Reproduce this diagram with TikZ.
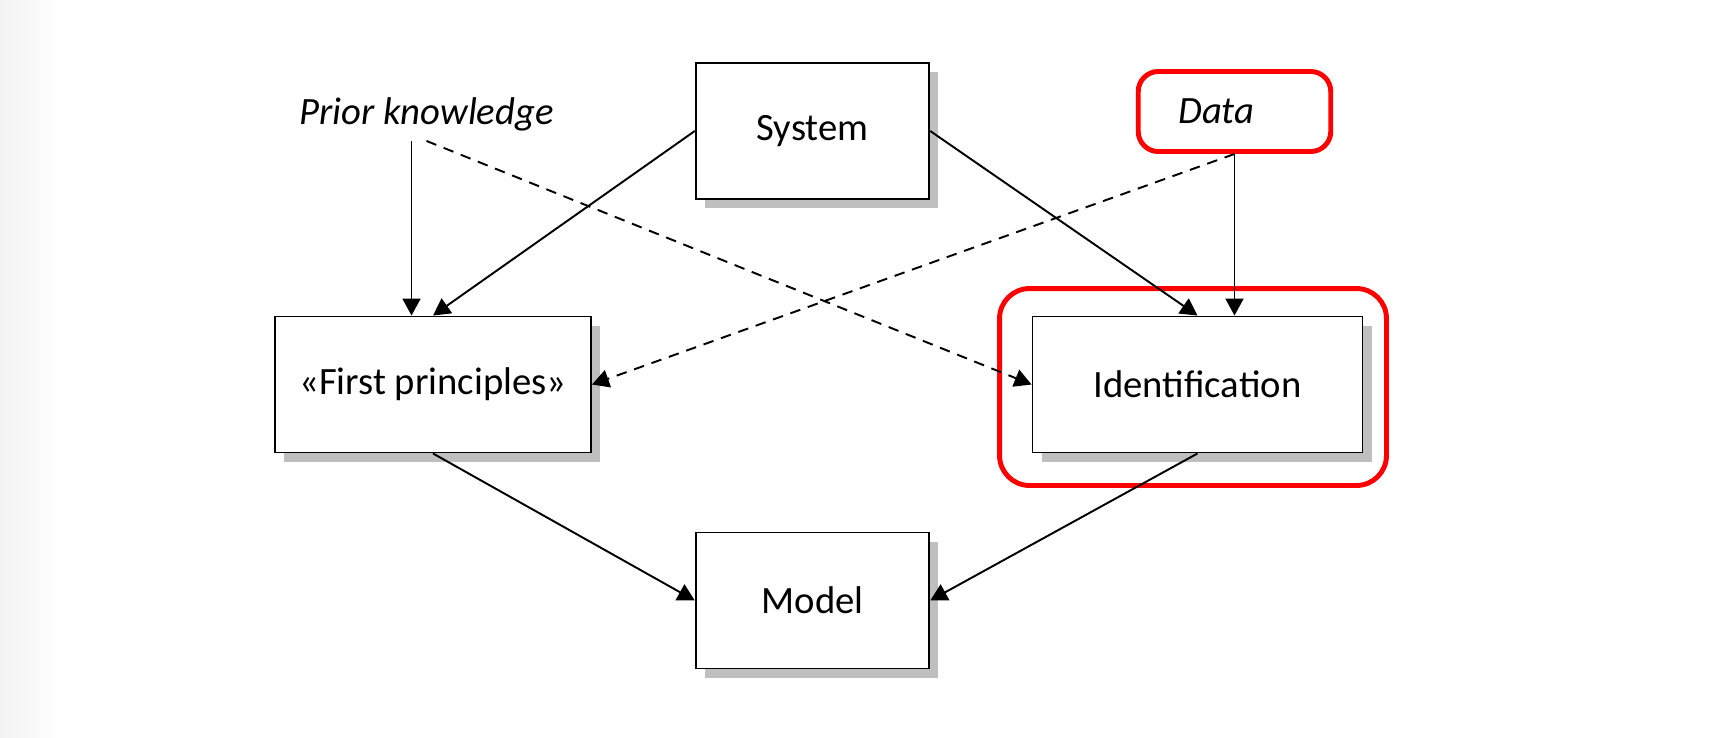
\documentclass[tikz,border=0pt]{standalone}
\usepackage{fontspec}
\setmainfont{Carlito}
\usetikzlibrary{shapes,arrows.meta,fit,calc,positioning,shadows}
\tikzstyle{box} = [draw, rectangle, fill=white, line width=1.1pt, text centered, minimum height=2.72cm, drop shadow={opacity=1, fill=black!25, shadow xshift=0.18cm, shadow yshift=-0.18cm}]
\tikzstyle{redbox} = [draw=red, rectangle, line width=2.8pt, rounded corners=0.4cm]
\tikzstyle{input} = [inner sep=0pt, text height=15pt, text depth=9pt]
\tikzstyle{line} = [draw, line width=1.1pt, -{Triangle[length=0.34cm, width=0.36cm]}]
\tikzstyle{dline} = [line, dash pattern=on 6pt off 4.5pt]

\begin{document}
\begin{tikzpicture}[auto, node distance=4cm, font=\fontsize{22}{26}\selectfont]
	\useasboundingbox (0,0) rectangle (34.52,-14.74);
	\shade[left color=black!5, right color=white] (0,0) rectangle (1.2,-14.74);
	\coordinate (mid) at (16.25,-7.69);
	\node[box, above of=mid, node distance=5.07cm, minimum width=4.67cm](sys){System};
	\node[box, below of=mid, node distance=4.32cm, minimum width=4.67cm](model){Model};
	\node[box, left of=mid, node distance=7.59cm, minimum width=6.32cm](first){«First principles»};
	\node[box, right of=mid, node distance=7.7cm, minimum width=6.6cm](ident){Identification};
	\node[redbox, fit=(ident), inner xsep=0.55cm, inner ysep=0.59cm, xshift=-0.09cm, yshift=-0.05cm, rounded corners=0.6cm](idframe){};
	\node[redbox, text width=2.25cm, align=left, inner xsep=0.8cm, minimum height=1.6cm](data) at ($(sys)+(8.44,0.39)$){\textit{Data}};
	\node[input](prior) at ($(sys)+(-7.72,0.23)$){\textit{Prior knowledge}};
	\coordinate (pkin) at ($(first.north)+(-0.43,0)$);

	\path [line] (pkin |- prior.south) -- (pkin);
	\path [line] (sys.west) -- (first.north);
	\path [line] (sys.east) -- (ident.north);
	\path [line] (data.south) -- (data.south |- ident.north);
	\path [dline] (prior.south) -- (ident.west);
	\path [dline] (data.south) -- (first.east);
	\path [line] (first.south) -- (model.west);
	\path [line] (ident.south) -- (model.east);
\end{tikzpicture}
\end{document}
